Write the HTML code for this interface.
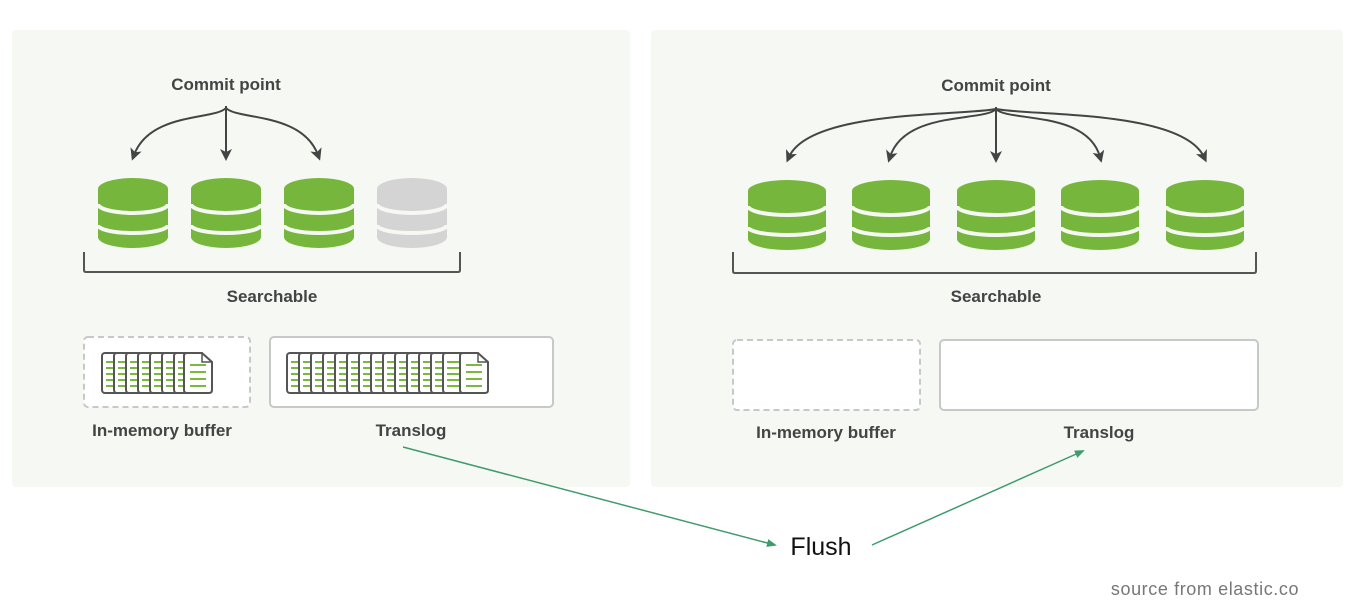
<!DOCTYPE html>
<html><head><meta charset="utf-8"><style>
html,body{margin:0;padding:0;background:#fff;}
svg{display:block;}
text{font-family:"Liberation Sans",sans-serif;}
.lb{font-size:17px;fill:#444;font-weight:bold;text-anchor:middle;}
</style></head><body>
<svg width="1353" height="603" viewBox="0 0 1353 603" xmlns="http://www.w3.org/2000/svg">
<defs>
<marker id="ah" markerWidth="12" markerHeight="12" refX="6" refY="6" orient="auto" markerUnits="userSpaceOnUse"><path d="M0,0 L12,6 L0,12 L3,6 Z" fill="#444"/></marker>
<marker id="ag" markerWidth="10" markerHeight="10" refX="8" refY="5" orient="auto" markerUnits="userSpaceOnUse"><path d="M0,1 L10,5 L0,9 Z" fill="#3f9b6c"/></marker>
<g id="doc"><rect x="0" y="0" width="28" height="40" rx="3" fill="#fff" stroke="#555" stroke-width="2"/>
<g stroke="#7ab83f" stroke-width="2"><line x1="4" y1="9" x2="24" y2="9"/><line x1="4" y1="15" x2="24" y2="15"/><line x1="4" y1="21" x2="24" y2="21"/><line x1="4" y1="27" x2="24" y2="27"/><line x1="4" y1="33" x2="24" y2="33"/></g></g>
<g id="ldoc"><path d="M3,0 H18 L28,9 V37 Q28,40 25,40 H3 Q0,40 0,37 V3 Q0,0 3,0 Z" fill="#fff" stroke="#555" stroke-width="2"/><path d="M18,0 V9 H28" fill="none" stroke="#555" stroke-width="1.5"/>
<g stroke="#7ab83f" stroke-width="2"><line x1="6" y1="12" x2="22" y2="12"/><line x1="6" y1="19" x2="22" y2="19"/><line x1="6" y1="26" x2="22" y2="26"/><line x1="6" y1="33" x2="22" y2="33"/></g></g>
<g id="cyl">
<path d="M0,11 A35,11 0 0 1 70,11 V59 A35,11 0 0 1 0,59 Z"/>
<path d="M0,26 A35,9 0 0 0 70,26 M0,47 A35,8 0 0 0 70,47" fill="none" stroke="#f6f8f3" stroke-width="4"/>
</g>
<g id="cylR">
<path d="M0,11 A39,11 0 0 1 78,11 V59 A39,11 0 0 1 0,59 Z"/>
<path d="M0,26 A39,9 0 0 0 78,26 M0,47 A39,8 0 0 0 78,47" fill="none" stroke="#f6f8f3" stroke-width="4"/>
</g>
</defs>
<rect x="12" y="30" width="618" height="457" rx="4" fill="#f6f8f3"/>
<rect x="651" y="30" width="692" height="457" rx="4" fill="#f6f8f3"/>

<!-- left -->
<text x="226" y="90" class="lb">Commit point</text>
<g fill="none" stroke="#444" stroke-width="2">
<path d="M226,106 V155" marker-end="url(#ah)"/>
<path d="M226,108 C215,120 150,112 134,155" marker-end="url(#ah)"/>
<path d="M226,108 C237,120 302,112 318,155" marker-end="url(#ah)"/>
</g>
<g fill="#76b63d">
<use href="#cyl" x="98" y="178"/>
<use href="#cyl" x="191" y="178"/>
<use href="#cyl" x="284" y="178"/>
</g>
<g fill="#d4d4d4"><use href="#cyl" x="377" y="178"/></g>
<path d="M84,252 V270 Q84,272 86,272 H458 Q460,272 460,270 V252" fill="none" stroke="#555" stroke-width="2"/>
<text x="272" y="302" class="lb">Searchable</text>
<rect x="84" y="337" width="166" height="70" rx="4" fill="#fff" stroke="#c8c8c8" stroke-width="2" stroke-dasharray="6,4"/>
<rect x="270" y="337" width="283" height="70" rx="4" fill="#fff" stroke="#c8c8c8" stroke-width="2"/>
<use href="#doc" x="102" y="353"/><use href="#doc" x="114" y="353"/><use href="#doc" x="126" y="353"/><use href="#doc" x="138" y="353"/><use href="#doc" x="150" y="353"/><use href="#doc" x="162" y="353"/><use href="#doc" x="174" y="353"/><use href="#ldoc" x="184" y="353"/>
<use href="#doc" x="287" y="353"/><use href="#doc" x="299" y="353"/><use href="#doc" x="311" y="353"/><use href="#doc" x="323" y="353"/><use href="#doc" x="335" y="353"/><use href="#doc" x="347" y="353"/><use href="#doc" x="359" y="353"/><use href="#doc" x="371" y="353"/><use href="#doc" x="383" y="353"/><use href="#doc" x="395" y="353"/><use href="#doc" x="407" y="353"/><use href="#doc" x="419" y="353"/><use href="#doc" x="431" y="353"/><use href="#doc" x="443" y="353"/><use href="#ldoc" x="460" y="353"/>
<text x="162" y="436" class="lb">In-memory buffer</text>
<text x="411" y="436" class="lb">Translog</text>

<!-- right -->
<text x="996" y="91" class="lb">Commit point</text>
<g fill="none" stroke="#444" stroke-width="2">
<path d="M996,107 V157" marker-end="url(#ah)"/>
<path d="M996,109 C985,122 905,110 890,157" marker-end="url(#ah)"/>
<path d="M996,109 C1007,122 1087,110 1100,157" marker-end="url(#ah)"/>
<path d="M996,109 C960,116 810,110 789,157" marker-end="url(#ah)"/>
<path d="M996,109 C1032,116 1182,110 1204,157" marker-end="url(#ah)"/>
</g>
<g fill="#76b63d">
<use href="#cylR" x="748" y="180"/>
<use href="#cylR" x="852" y="180"/>
<use href="#cylR" x="957" y="180"/>
<use href="#cylR" x="1061" y="180"/>
<use href="#cylR" x="1166" y="180"/>
</g>
<path d="M733,252 V271 Q733,273 735,273 H1254 Q1256,273 1256,271 V252" fill="none" stroke="#555" stroke-width="2"/>
<text x="996" y="302" class="lb">Searchable</text>
<rect x="733" y="340" width="187" height="70" rx="4" fill="#fff" stroke="#c8c8c8" stroke-width="2" stroke-dasharray="6,4"/>
<rect x="940" y="340" width="318" height="70" rx="4" fill="#fff" stroke="#c8c8c8" stroke-width="2"/>
<text x="826" y="438" class="lb">In-memory buffer</text>
<text x="1099" y="438" class="lb">Translog</text>

<!-- flush -->
<g stroke="#3f9b6c" stroke-width="1.5" fill="none">
<path d="M403,447 L775,545" marker-end="url(#ag)"/>
<path d="M872,545 L1083,451" marker-end="url(#ag)"/>
</g>
<text x="821" y="555" font-size="25" fill="#111" text-anchor="middle">Flush</text>
<text x="1205" y="595" font-size="18" fill="#777" text-anchor="middle" letter-spacing="0.6">source from elastic.co</text>
</svg>
</body></html>
